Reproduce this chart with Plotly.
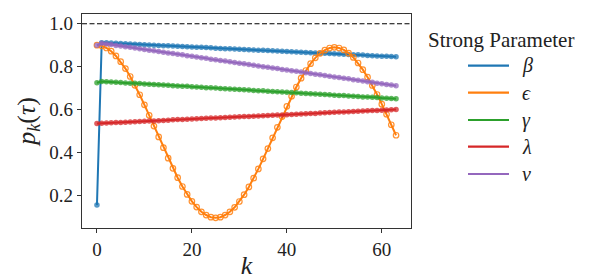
import plotly.graph_objects as go

K = list(range(64))

beta = [0.155, 0.912, 0.911, 0.910, 0.909, 0.908, 0.907, 0.906, 0.905, 0.903, 0.902,
        0.901, 0.900, 0.899, 0.898, 0.897, 0.896, 0.895, 0.894, 0.893, 0.892,
        0.891, 0.890, 0.889, 0.888, 0.886, 0.885, 0.884, 0.883, 0.882, 0.881,
        0.880, 0.879, 0.878, 0.877, 0.876, 0.875, 0.874, 0.873, 0.872, 0.871,
        0.869, 0.868, 0.867, 0.866, 0.865, 0.864, 0.863, 0.862, 0.861, 0.860,
        0.859, 0.858, 0.857, 0.856, 0.855, 0.854, 0.852, 0.851, 0.850, 0.849,
        0.848, 0.847, 0.846]

epsilon = [0.900, 0.897, 0.887, 0.872, 0.850, 0.823, 0.791, 0.754, 0.713, 0.669,
           0.622, 0.573, 0.523, 0.472, 0.422, 0.373, 0.326, 0.282, 0.241, 0.204,
           0.172, 0.145, 0.123, 0.108, 0.098, 0.095, 0.098, 0.108, 0.123, 0.144,
           0.171, 0.203, 0.239, 0.280, 0.323, 0.370, 0.418, 0.468, 0.517, 0.567,
           0.615, 0.662, 0.705, 0.746, 0.782, 0.814, 0.841, 0.862, 0.877, 0.887,
           0.890, 0.887, 0.878, 0.863, 0.843, 0.817, 0.786, 0.751, 0.712, 0.670,
           0.625, 0.578, 0.529, 0.480]

gamma = [0.725, 0.731, 0.730, 0.728, 0.727, 0.726, 0.724, 0.723, 0.722, 0.721,
         0.719, 0.718, 0.717, 0.715, 0.714, 0.713, 0.711, 0.710, 0.709, 0.708,
         0.706, 0.705, 0.704, 0.702, 0.701, 0.700, 0.698, 0.697, 0.696, 0.695,
         0.693, 0.692, 0.691, 0.689, 0.688, 0.687, 0.685, 0.684, 0.683, 0.682,
         0.680, 0.679, 0.678, 0.676, 0.675, 0.674, 0.672, 0.671, 0.670, 0.669,
         0.667, 0.666, 0.665, 0.663, 0.662, 0.661, 0.659, 0.658, 0.657, 0.656,
         0.654, 0.653, 0.652, 0.650]

lam = [0.535, 0.536, 0.537, 0.538, 0.539, 0.540, 0.541, 0.542, 0.543, 0.544,
       0.545, 0.546, 0.547, 0.548, 0.549, 0.550, 0.552, 0.553, 0.554, 0.555,
       0.556, 0.557, 0.558, 0.559, 0.560, 0.561, 0.562, 0.563, 0.564, 0.565,
       0.566, 0.567, 0.568, 0.569, 0.570, 0.571, 0.572, 0.573, 0.574, 0.575,
       0.576, 0.577, 0.578, 0.579, 0.580, 0.581, 0.582, 0.584, 0.585, 0.586,
       0.587, 0.588, 0.589, 0.590, 0.591, 0.592, 0.593, 0.594, 0.595, 0.596,
       0.597, 0.598, 0.599, 0.600]

nu = [0.900, 0.909, 0.906, 0.903, 0.899, 0.896, 0.893, 0.890, 0.887, 0.883,
      0.880, 0.877, 0.874, 0.871, 0.867, 0.864, 0.861, 0.858, 0.855, 0.851,
      0.848, 0.845, 0.842, 0.839, 0.835, 0.832, 0.829, 0.826, 0.823, 0.819,
      0.816, 0.813, 0.810, 0.807, 0.803, 0.800, 0.797, 0.794, 0.791, 0.787,
      0.784, 0.781, 0.778, 0.775, 0.771, 0.768, 0.765, 0.762, 0.759, 0.755,
      0.752, 0.749, 0.746, 0.743, 0.739, 0.736, 0.733, 0.730, 0.727, 0.723,
      0.720, 0.717, 0.714, 0.711]

series_names = ["β", "ϵ", "γ", "λ", "ν"]
series_values = [beta, epsilon, gamma, lam, nu]
colors = ["#1f77b4", "#ff7f0e", "#2ca02c", "#d62728", "#9467bd"]
rgba = ["rgba(31,119,180,0.75)", "rgba(255,127,14,0.85)", "rgba(44,160,44,0.75)",
        "rgba(214,39,40,0.75)", "rgba(148,103,189,0.75)"]

x_ticks = [0, 20, 40, 60]
y_ticks = [0.2, 0.4, 0.6, 0.8, 1.0]
legend_title = "Strong Parameter"

FONT = "Liberation Serif, DejaVu Serif, serif"

# The page body has an 8px margin, so the figure is 8px smaller than the
# 598x280 window and all pixel positions below are window positions.
OFF = 8
W, H = 598 - OFF, 280 - OFF
ML, MT = 82 - OFF, 14 - OFF
PW, PH = 329, 214
MR, MB = W - ML - PW, H - MT - PH


def px_x(px):
    return (px - OFF - ML) / PW


def px_y(py):
    return (MT + PH - (py - OFF)) / PH


fig = go.Figure()

for name, vals, c, ca in zip(series_names, series_values, colors, rgba):
    sym = "circle-open" if c == "#ff7f0e" else "circle"
    fig.add_trace(go.Scatter(
        x=K, y=vals, mode="lines+markers", name=name,
        line=dict(color=c, width=2),
        marker=dict(symbol=sym, size=5.5, color=ca,
                    line=dict(width=1.2 if sym == "circle-open" else 0)),
        showlegend=False,
    ))

shapes = [dict(type="line", xref="paper", yref="y", x0=0, x1=1, y0=1.0, y1=1.0,
               line=dict(color="black", width=1.2, dash="5px,2.5px"))]
annotations = [dict(text=legend_title, xref="paper", yref="paper",
                    x=px_x(501), y=px_y(40), xanchor="center", yanchor="middle",
                    showarrow=False, font=dict(size=21))]
row_y = [65.7, 92.7, 120.0, 146.7, 174.0]
for name, c, ry in zip(series_names, colors, row_y):
    shapes.append(dict(type="line", xref="paper", yref="paper",
                       x0=px_x(468), x1=px_x(509), y0=px_y(ry), y1=px_y(ry),
                       line=dict(color=c, width=2.2)))
    annotations.append(dict(text="<i>" + name + "</i>", xref="paper", yref="paper",
                            x=px_x(520), y=px_y(ry), xanchor="left", yanchor="middle",
                            showarrow=False, font=dict(size=20)))

fig.update_layout(
    width=W, height=H,
    margin=dict(l=ML, r=MR, t=MT, b=MB),
    paper_bgcolor="white", plot_bgcolor="white",
    font=dict(family=FONT, color="#222", size=19),
    showlegend=False,
    xaxis=dict(range=[-3.15, 66.15], tickvals=x_ticks, ticks="outside", ticklen=4,
               tickwidth=1.1, tickcolor="#333", showline=True, linecolor="#333",
               linewidth=1.2, mirror=True, showgrid=False, zeroline=False,
               automargin=False,
               title=dict(text="<i>k</i>", font=dict(size=26), standoff=0)),
    yaxis=dict(range=[0.0475, 1.0455], tickvals=y_ticks, tickformat=".1f",
               ticks="outside", ticklen=4, tickwidth=1.1, tickcolor="#333",
               showline=True, linecolor="#333", linewidth=1.2, mirror=True,
               showgrid=False, zeroline=False, automargin=False,
               title=dict(text="<i>p</i><sub><i>k</i></sub>(<i>τ</i>)",
                          font=dict(size=26), standoff=6)),
    shapes=shapes,
    annotations=annotations,
)

fig.write_html("out.html")
